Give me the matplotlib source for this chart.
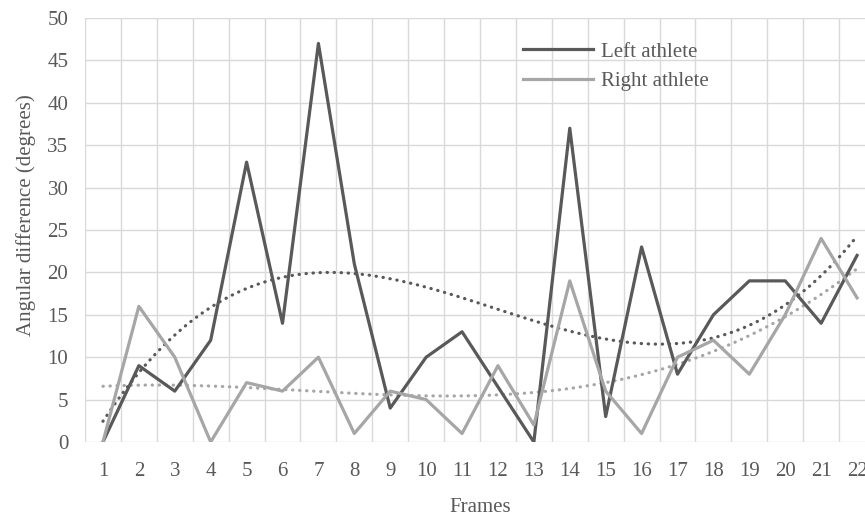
import numpy as np
import matplotlib
matplotlib.use('Agg')
import matplotlib.pyplot as plt

frames = list(range(1, 23))
left_athlete = [0, 9, 6, 12, 33, 14, 47, 21, 4, 10, 13, 6.5, 0, 37, 3, 23, 8, 15, 19, 19, 14, 22]
right_athlete = [0, 16, 10, 0, 7, 6, 10, 1, 6, 5, 1, 9, 2, 19, 6, 1, 10, 12, 8, 15, 24, 17]

dark = '#595959'
light = '#a6a6a6'
txt = '#595959'

plt.rcParams['font.family'] = ['Liberation Serif', 'DejaVu Serif']
plt.rcParams['font.size'] = 15

fig = plt.figure(figsize=(8.65, 5.17), dpi=100)
ax = fig.add_axes([85 / 865, 1 - 442 / 517, 790 / 865, 424 / 517])

x = np.array(frames)
# polynomial trendlines (like Excel), fitted on the data
xs = np.linspace(1, 22, 300)
pl = np.polyfit(x, left_athlete, 3)
pr = np.polyfit(x, right_athlete, 3)
ax.plot(xs, np.polyval(pl, xs), color=dark, lw=2.3, ls=(0, (0.1, 2.1)), dash_capstyle='round', zorder=3)
ax.plot(xs, np.polyval(pr, xs), color=light, lw=2.3, ls=(0, (0.1, 2.1)), dash_capstyle='round', zorder=3)

ax.plot(x, left_athlete, color=dark, lw=2.3, label='Left athlete', zorder=4)
ax.plot(x, right_athlete, color=light, lw=2.3, label='Right athlete', zorder=4)

ax.set_xlim(0.5, 22.5)
ax.set_ylim(0, 50)
ax.set_yticks(range(0, 51, 5))
ax.set_xticks(frames)
ax.set_xticks(np.arange(0.5, 23, 1), minor=True)
ax.grid(False)
ax.grid(True, which='minor', axis='x', color='#d9d9d9', lw=1)
ax.grid(True, which='major', axis='y', color='#d9d9d9', lw=1)
ax.set_axisbelow(True)
for s in ax.spines.values():
    s.set_visible(False)
ax.tick_params(which='both', length=0, colors=txt)
ax.tick_params(axis='y', pad=12)
ax.tick_params(axis='x', pad=14.5)

ax.set_xlabel('Frames', color=txt, labelpad=12.5)
ax.set_ylabel('Angular difference (degrees)', color=txt)
ax.yaxis.set_label_coords(-0.062, 0.535)

leg = ax.legend(loc='upper left', bbox_to_anchor=(523 / 865, 1 - 42 / 517), bbox_transform=fig.transFigure,
                frameon=False, borderpad=0, borderaxespad=0, handlelength=3.35, handletextpad=0.38,
                labelspacing=0.48)
for t in leg.get_texts():
    t.set_color(txt)

fig.savefig('out.png', dpi=100)
